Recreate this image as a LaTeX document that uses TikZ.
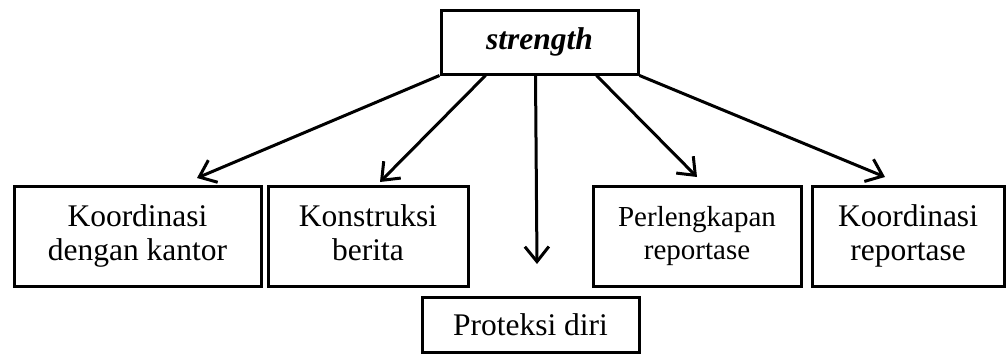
\documentclass[tikz,border=0pt]{standalone}
\usepackage{fontspec}
\setmainfont{Liberation Serif}
\usetikzlibrary{arrows.meta}

\begin{document}
\begin{tikzpicture}[x=1pt,y=-1pt,line width=3pt,
    box/.style={draw,inner sep=0pt,align=center,font=\fontsize{31.5}{34}\selectfont},
    twoline/.style={execute at begin node=\rule{0pt}{27pt},execute at end node=\rule[-7pt]{0pt}{0pt}},
    arr/.style={-{Straight Barb[length=15pt,width=24pt]}}]
    \useasboundingbox (0,0) rectangle (1006,356);
    % Define boxes
    \node[box,minimum width=197pt,minimum height=64pt,font=\fontsize{31.5}{34}\selectfont\bfseries\itshape] (str) at (539.5,42) {strength};
    \node[box,twoline,minimum width=247pt,minimum height=100pt] (kk) at (137.5,236) {Koordinasi\\dengan kantor};
    \node[box,twoline,minimum width=200pt,minimum height=100pt] (kb) at (368,236) {Konstruksi\\berita};
    \node[box,twoline,minimum width=208pt,minimum height=100pt,font=\fontsize{29}{33}\selectfont] (pr) at (697,236) {Perlengkapan\\reportase};
    \node[box,twoline,minimum width=192pt,minimum height=100pt] (kr) at (908,236) {Koordinasi\\reportase};
    \node[box,minimum width=217pt,minimum height=55pt] (pd) at (530.5,324.5) {Proteksi diri};

    % Define arrow tips
    \coordinate (t1) at (197,178);
    \coordinate (t2) at (380,182);
    \coordinate (t3) at (537,264);
    \coordinate (t4) at (697,177);
    \coordinate (t5) at (885,177);

    % Draw arrows
    \draw[arr] (str.south west) -- (t1);
    \draw[arr] ([xshift=46pt]str.south west) -- (t2);
    \draw[arr] ([xshift=96pt]str.south west) -- (t3);
    \draw[arr] ([xshift=-43pt]str.south east) -- (t4);
    \draw[arr] (str.south east) -- (t5);
\end{tikzpicture}
\end{document}
